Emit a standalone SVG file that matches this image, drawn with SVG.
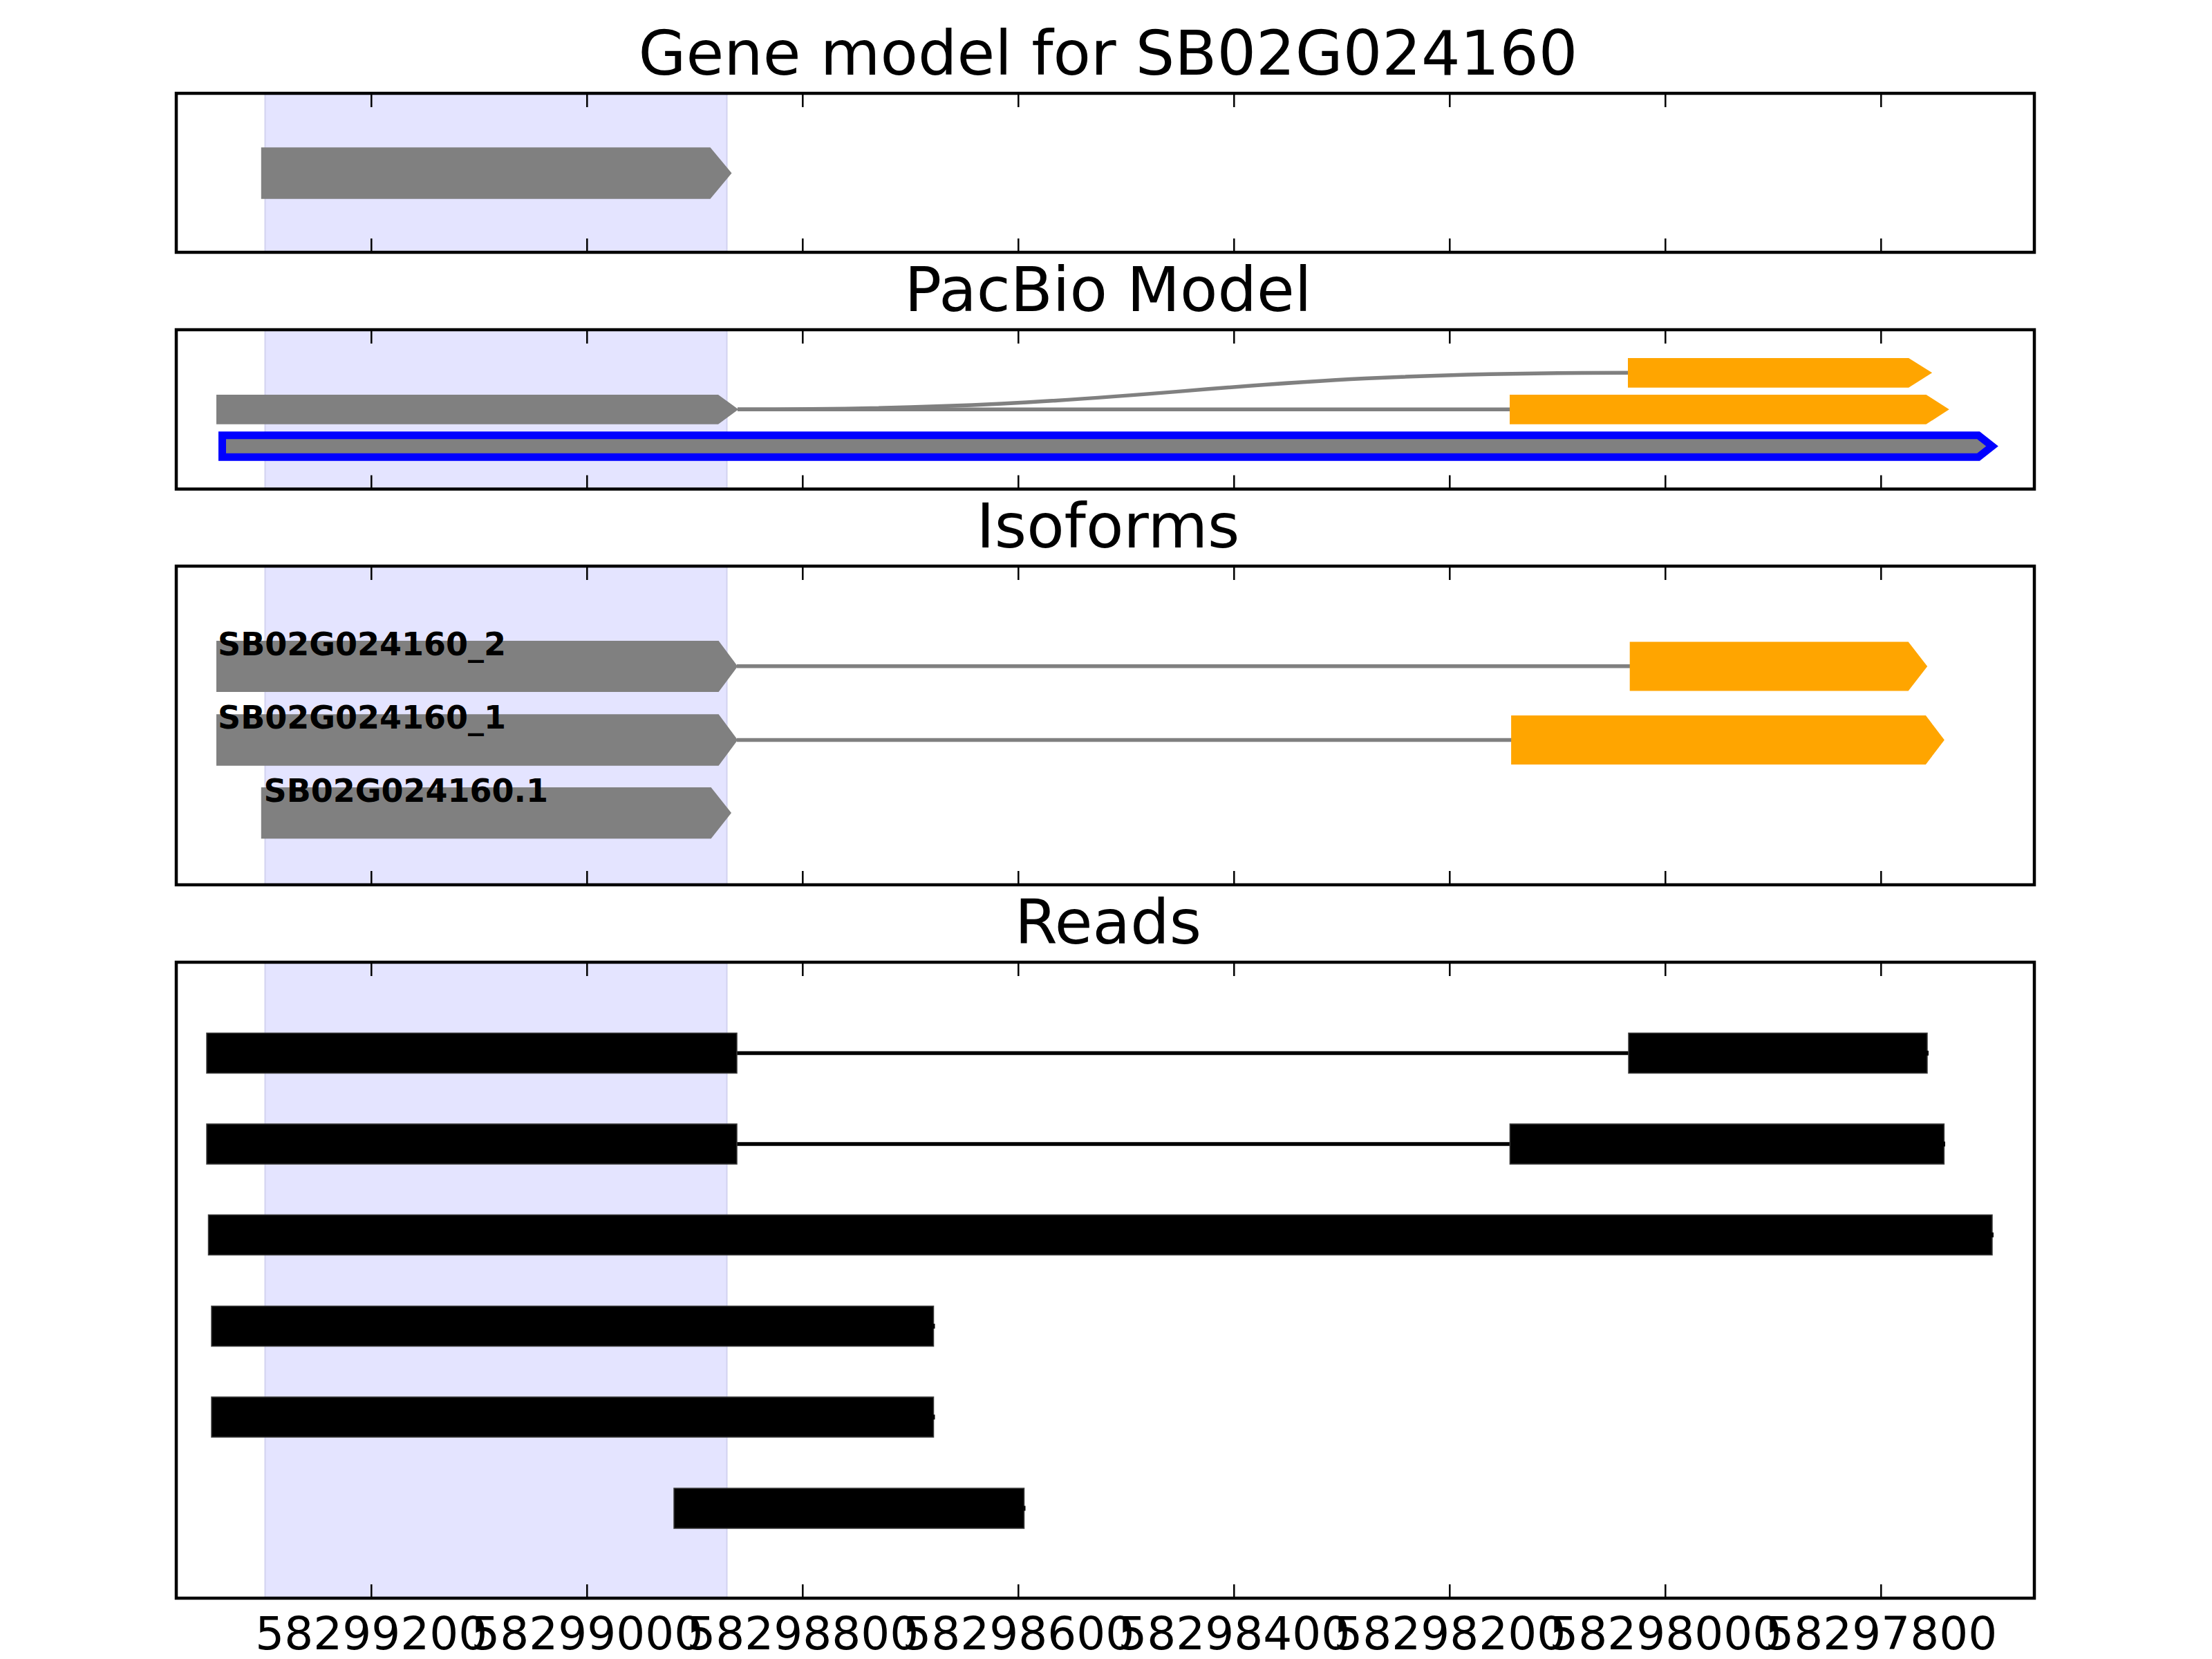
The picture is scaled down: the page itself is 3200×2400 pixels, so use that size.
<svg xmlns="http://www.w3.org/2000/svg" width="3200" height="2400" viewBox="0 0 3200 2400">
<style>
.title{font-family:"DejaVu Sans","Liberation Sans",sans-serif;font-size:89px;fill:#000;text-anchor:middle}
.tick{font-family:"DejaVu Sans","Liberation Sans",sans-serif;font-size:66px;fill:#000;text-anchor:middle}
.lab{font-family:"DejaVu Sans","Liberation Sans",sans-serif;font-size:46px;font-weight:bold;fill:#000}
.frame{fill:none;stroke:#000;stroke-width:4.5}
.ticks{fill:none;stroke:#000;stroke-width:2.5}
.shade{fill:#e4e4ff;stroke:#d2d2f0;stroke-width:2}
.gray{fill:#808080}
.orange{fill:#ffa500}
.sel{fill:#808080;stroke:#0000ff;stroke-width:11;stroke-linejoin:miter;stroke-miterlimit:10}
.read{fill:#000;stroke:#3a3a3a;stroke-width:1.5}
.intron{fill:none;stroke:#808080;stroke-width:5.5}
.rintron{fill:none;stroke:#000;stroke-width:5.5}
</style>
<rect width="3200" height="2400" fill="#fff"/>

<g id="shading">
<rect class="shade" x="383.5" y="135" width="668" height="230"/>
<rect class="shade" x="383.5" y="477" width="668" height="230.5"/>
<rect class="shade" x="383.5" y="819" width="668" height="461"/>
<rect class="shade" x="383.5" y="1392" width="668" height="920"/>
</g>

<g id="connectors">
<path class="intron" d="M1067 592.3 C1711 592.3 1711 539.3 2360 539.3"/>
<path class="intron" d="M1067 592.3 H2189"/>
<path class="intron" d="M1066 963.8 H2363"/>
<path class="intron" d="M1066 1070.5 H2191"/>
<path class="rintron" d="M1066 1523.5 H2356"/>
<path class="rintron" d="M1066 1655 H2184"/>
</g>

<g id="gene-model">
<polygon class="gray" points="377.8,213.3 1027.5,213.3 1058.5,250.5 1027.5,287.7 377.8,287.7"/>
</g>

<g id="pacbio-gray">
<polygon class="gray" points="313,571 1039,571 1068.3,592.3 1039,613.7 313,613.7"/>
</g>
<g id="pacbio-orange-1">
<polygon class="orange" points="2355,518 2761.2,518 2795.1,539.3 2761.2,560.7 2355,560.7"/>
</g>
<g id="pacbio-orange-2">
<polygon class="orange" points="2184,571 2786.5,571 2819.8,592.3 2786.5,613.7 2184,613.7"/>
</g>
<g id="pacbio-selected">
<polygon class="sel" points="321.5,629.7 2862,629.7 2882,645.5 2862,661.3 321.5,661.3"/>
</g>

<g id="iso-SB02G024160_2">
<polygon class="gray" points="313,927 1039.6,927 1067.2,964 1039.6,1001 313,1001"/>
<polygon class="orange" points="2357.7,928.5 2760.7,928.5 2788.2,964 2760.7,999.5 2357.7,999.5"/>
<text class="lab" x="315" y="947.5">SB02G024160_2</text>
</g>
<g id="iso-SB02G024160_1">
<polygon class="gray" points="313,1033.3 1039.6,1033.3 1067.2,1070.5 1039.6,1107.7 313,1107.7"/>
<polygon class="orange" points="2186.1,1035 2785.9,1035 2812.9,1070.5 2785.9,1106 2186.1,1106"/>
<text class="lab" x="315" y="1053.5">SB02G024160_1</text>
</g>
<g id="iso-SB02G024160.1">
<polygon class="gray" points="377.8,1139 1028.6,1139 1058,1176 1028.6,1213.3 377.8,1213.3"/>
<text class="lab" x="381.5" y="1159.5">SB02G024160.1</text>
</g>

<g id="read-1">
<rect class="read" x="299" y="1494.5" width="767" height="58"/>
<rect class="read" x="2356" y="1494.5" width="432" height="58"/>
<rect fill="#000" x="2787" y="1520" width="3" height="7"/>
</g>
<g id="read-2">
<rect class="read" x="299" y="1626" width="767" height="58"/>
<rect class="read" x="2184.4" y="1626" width="628" height="58"/>
<rect fill="#000" x="2811" y="1651.5" width="3" height="7"/>
</g>
<g id="read-3">
<rect class="read" x="301.5" y="1757.5" width="2580.5" height="58"/>
<rect fill="#000" x="2881" y="1783" width="3" height="7"/>
</g>
<g id="read-4">
<rect class="read" x="306" y="1889.5" width="1044.5" height="58"/>
<rect fill="#000" x="1349.5" y="1915" width="3" height="7"/>
</g>
<g id="read-5">
<rect class="read" x="306" y="2021" width="1044.5" height="58"/>
<rect fill="#000" x="1349.5" y="2046.5" width="3" height="7"/>
</g>
<g id="read-6">
<rect class="read" x="975" y="2153" width="506.5" height="58"/>
<rect fill="#000" x="1480.5" y="2178.5" width="3" height="7"/>
</g>

<g id="axes-frames">
<rect class="frame" x="255" y="135" width="2688" height="230"/>
<rect class="frame" x="255" y="477" width="2688" height="230.5"/>
<rect class="frame" x="255" y="819" width="2688" height="461"/>
<rect class="frame" x="255" y="1392" width="2688" height="920"/>
<path class="ticks" d="M537.3 135v20M849.3 135v20M1161.3 135v20M1473.3 135v20M1785.3 135v20M2097.3 135v20M2409.3 135v20M2721.3 135v20M537.3 365v-20M849.3 365v-20M1161.3 365v-20M1473.3 365v-20M1785.3 365v-20M2097.3 365v-20M2409.3 365v-20M2721.3 365v-20M537.3 477v20M849.3 477v20M1161.3 477v20M1473.3 477v20M1785.3 477v20M2097.3 477v20M2409.3 477v20M2721.3 477v20M537.3 707.5v-20M849.3 707.5v-20M1161.3 707.5v-20M1473.3 707.5v-20M1785.3 707.5v-20M2097.3 707.5v-20M2409.3 707.5v-20M2721.3 707.5v-20M537.3 819v20M849.3 819v20M1161.3 819v20M1473.3 819v20M1785.3 819v20M2097.3 819v20M2409.3 819v20M2721.3 819v20M537.3 1280v-20M849.3 1280v-20M1161.3 1280v-20M1473.3 1280v-20M1785.3 1280v-20M2097.3 1280v-20M2409.3 1280v-20M2721.3 1280v-20M537.3 1392v20M849.3 1392v20M1161.3 1392v20M1473.3 1392v20M1785.3 1392v20M2097.3 1392v20M2409.3 1392v20M2721.3 1392v20M537.3 2312v-20M849.3 2312v-20M1161.3 2312v-20M1473.3 2312v-20M1785.3 2312v-20M2097.3 2312v-20M2409.3 2312v-20M2721.3 2312v-20"/>
</g>

<g id="titles">
<text class="title" x="1603" y="108">Gene model for SB02G024160</text>
<text class="title" x="1603" y="449.5">PacBio Model</text>
<text class="title" x="1603" y="791.5">Isoforms</text>
<text class="title" x="1603" y="1364.5">Reads</text>
</g>

<g id="tick-labels">
<text class="tick" x="537.3" y="2386">58299200</text>
<text class="tick" x="849.3" y="2386">58299000</text>
<text class="tick" x="1161.3" y="2386">58298800</text>
<text class="tick" x="1473.3" y="2386">58298600</text>
<text class="tick" x="1785.3" y="2386">58298400</text>
<text class="tick" x="2097.3" y="2386">58298200</text>
<text class="tick" x="2409.3" y="2386">58298000</text>
<text class="tick" x="2721.3" y="2386">58297800</text>
</g>
</svg>
